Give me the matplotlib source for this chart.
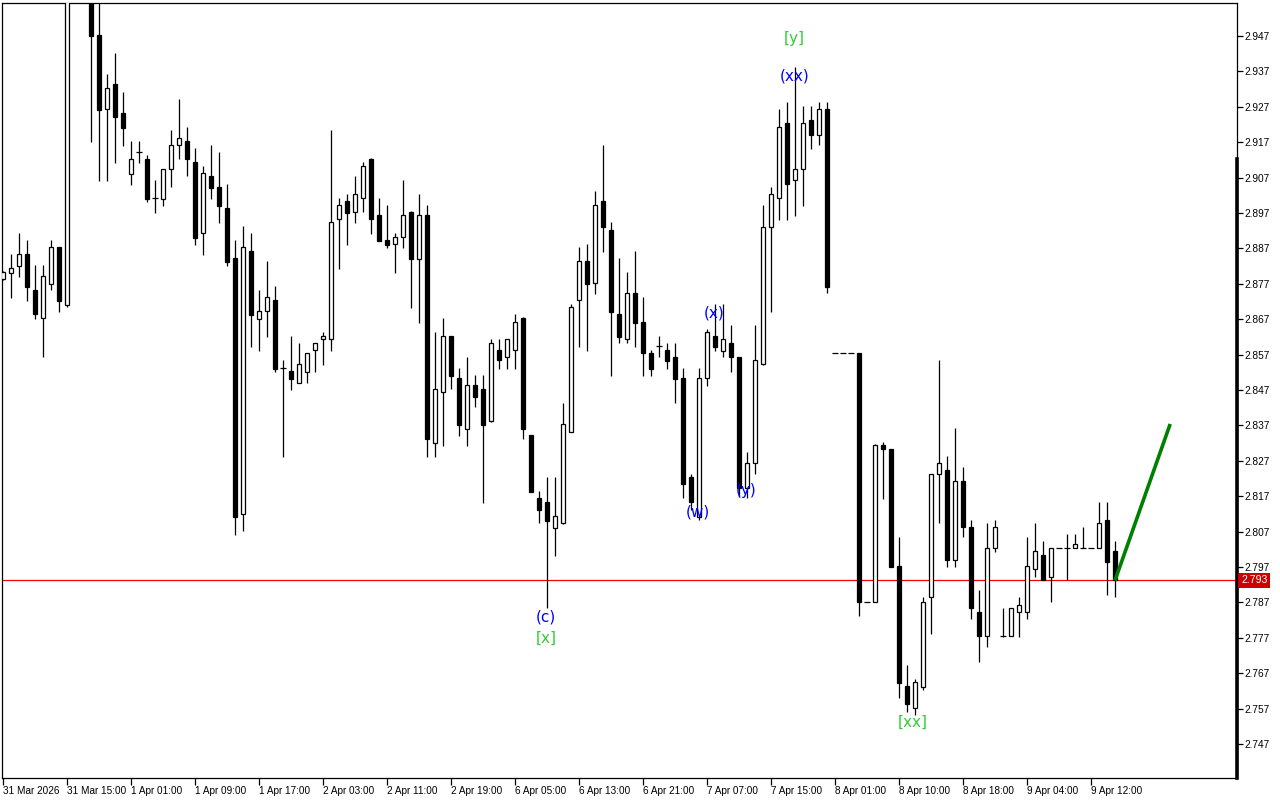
import numpy as np
import matplotlib
matplotlib.use("Agg")
import matplotlib.pyplot as plt
import matplotlib.transforms as mtransforms

# Hourly bars, values (bars 9 and 10 sit above the visible range)
opens = [2.8783, 2.8801, 2.8821, 2.8853, 2.8752, 2.8673, 2.8770, 2.8873, 2.8711, 2.9620,
         2.9700, 2.9630, 2.9473, 2.9263, 2.9334, 2.9252, 2.9081, 2.9142, 2.9122, 2.9011,
         2.9010, 2.9093, 2.9161, 2.9172, 2.9113, 2.8913, 2.9074, 2.9043, 2.8983, 2.8842,
         2.8121, 2.8862, 2.8671, 2.8692, 2.8723, 2.8531, 2.8523, 2.8491, 2.8522, 2.8582,
         2.8613, 2.8613, 2.8952, 2.9003, 2.8972, 2.9011, 2.9122, 2.8963, 2.8893, 2.8882,
         2.8901, 2.8972, 2.8841, 2.8963, 2.8321, 2.8463, 2.8622, 2.8503, 2.8361, 2.8483,
         2.8472, 2.8381, 2.8582, 2.8562, 2.8582, 2.8673, 2.8342, 2.8164, 2.8154, 2.8081,
         2.8093, 2.8352, 2.8723, 2.8833, 2.8771, 2.9003, 2.8922, 2.8684, 2.8613, 2.8743,
         2.8661, 2.8574, 2.8594, 2.8583, 2.8562, 2.8503, 2.8223, 2.8111, 2.8503, 2.8623,
         2.8581, 2.8602, 2.8562, 2.8192, 2.8263, 2.8543, 2.8931, 2.9011, 2.9223, 2.9062,
         2.9093, 2.9233, 2.9191, 2.9263, 2.8574, 2.8574, 2.8574, 2.8574, 2.7872, 2.7872,
         2.8314, 2.8303, 2.7973, 2.7634, 2.7572, 2.7632, 2.7884, 2.8232, 2.8243, 2.7991,
         2.8212, 2.8082, 2.7842, 2.7775, 2.8023, 2.7775, 2.7774, 2.7842, 2.7842, 2.7964,
         2.8004, 2.7943, 2.8023, 2.8023, 2.8023, 2.8023, 2.8023, 2.8023, 2.8103, 2.8015]
highs = [2.8805, 2.8854, 2.8913, 2.8894, 2.8823, 2.8823, 2.8894, 2.8875, 2.9680, 2.9750,
         2.9780, 2.9660, 2.9580, 2.9363, 2.9422, 2.9312, 2.9173, 2.9173, 2.9134, 2.9063,
         2.9094, 2.9204, 2.9292, 2.9213, 2.9153, 2.9103, 2.9162, 2.9141, 2.9051, 2.8894,
         2.8933, 2.8913, 2.8751, 2.8834, 2.8764, 2.8554, 2.8622, 2.8602, 2.8575, 2.8603,
         2.8633, 2.9204, 2.9012, 2.9023, 2.9074, 2.9114, 2.9124, 2.9012, 2.8992, 2.8913,
         2.9063, 2.8975, 2.9023, 2.8992, 2.8634, 2.8673, 2.8623, 2.8531, 2.8562, 2.8511,
         2.8511, 2.8614, 2.8614, 2.8614, 2.8685, 2.8675, 2.8344, 2.8185, 2.8224, 2.8224,
         2.8432, 2.8713, 2.8874, 2.8881, 2.9031, 2.9162, 2.8945, 2.8843, 2.8802, 2.8863,
         2.8733, 2.8583, 2.8623, 2.8604, 2.8604, 2.8531, 2.8233, 2.8531, 2.8642, 2.8713,
         2.8713, 2.8654, 2.8564, 2.8294, 2.8654, 2.8992, 2.9044, 2.9264, 2.9283, 2.9383,
         2.9271, 2.9271, 2.9284, 2.9284, 2.8574, 2.8574, 2.8574, 2.8574, 2.7872, 2.8316,
         2.8322, 2.8304, 2.8055, 2.7693, 2.7654, 2.7885, 2.8234, 2.8555, 2.8284, 2.8363,
         2.8253, 2.8102, 2.7905, 2.8093, 2.8103, 2.7853, 2.7855, 2.7886, 2.8055, 2.8094,
         2.8043, 2.8025, 2.8023, 2.8063, 2.8063, 2.8083, 2.8023, 2.8154, 2.8154, 2.8043]
lows = [2.8780, 2.8731, 2.8790, 2.8722, 2.8670, 2.8563, 2.8751, 2.8691, 2.8704, 2.9580,
        2.9600, 2.9171, 2.9061, 2.9061, 2.9112, 2.9160, 2.9049, 2.9112, 2.9002, 2.8971,
        2.8991, 2.9042, 2.9121, 2.9073, 2.8880, 2.8852, 2.9010, 2.8943, 2.8821, 2.8060,
        2.8072, 2.8592, 2.8581, 2.8621, 2.8522, 2.8282, 2.8471, 2.8489, 2.8491, 2.8522,
        2.8541, 2.8581, 2.8813, 2.8880, 2.8943, 2.8972, 2.8911, 2.8890, 2.8872, 2.8801,
        2.8872, 2.8702, 2.8660, 2.8282, 2.8282, 2.8313, 2.8472, 2.8341, 2.8313, 2.8423,
        2.8152, 2.8380, 2.8530, 2.8530, 2.8530, 2.8332, 2.8181, 2.8093, 2.7854, 2.8001,
        2.8091, 2.8350, 2.8592, 2.8581, 2.8742, 2.8861, 2.8510, 2.8602, 2.8602, 2.8592,
        2.8510, 2.8510, 2.8562, 2.8530, 2.8432, 2.8164, 2.8131, 2.8103, 2.8482, 2.8581,
        2.8562, 2.8522, 2.8169, 2.8164, 2.8233, 2.8540, 2.8691, 2.8950, 2.8950, 2.8962,
        2.8991, 2.9152, 2.9161, 2.8743, 2.8574, 2.8574, 2.8574, 2.7832, 2.7872, 2.7870,
        2.8163, 2.7969, 2.7601, 2.7561, 2.7552, 2.7623, 2.7781, 2.8093, 2.7971, 2.7971,
        2.8054, 2.7822, 2.7703, 2.7743, 2.8013, 2.7773, 2.7774, 2.7773, 2.7822, 2.7943,
        2.7932, 2.7872, 2.8023, 2.7932, 2.8023, 2.8023, 2.8023, 2.8023, 2.7892, 2.7885]
closes = [2.8802, 2.8814, 2.8853, 2.8762, 2.8684, 2.8791, 2.8873, 2.8722, 2.9620, 2.9700,
          2.9630, 2.9471, 2.9262, 2.9322, 2.9242, 2.9211, 2.9122, 2.9141, 2.9010, 2.9011,
          2.9093, 2.9161, 2.9181, 2.9121, 2.8900, 2.9082, 2.9041, 2.8991, 2.8832, 2.8112,
          2.8873, 2.8683, 2.8692, 2.8732, 2.8530, 2.8531, 2.8502, 2.8543, 2.8574, 2.8602,
          2.8622, 2.8944, 2.8992, 2.8971, 2.9023, 2.9102, 2.8952, 2.8892, 2.8880, 2.8901,
          2.8963, 2.8841, 2.8963, 2.8332, 2.8472, 2.8622, 2.8510, 2.8372, 2.8483, 2.8451,
          2.8372, 2.8602, 2.8554, 2.8613, 2.8661, 2.8361, 2.8183, 2.8132, 2.8101, 2.8113,
          2.8373, 2.8704, 2.8833, 2.8770, 2.8992, 2.8931, 2.8691, 2.8621, 2.8743, 2.8660,
          2.8574, 2.8530, 2.8594, 2.8553, 2.8502, 2.8204, 2.8153, 2.8503, 2.8633, 2.8592,
          2.8613, 2.8562, 2.8192, 2.8263, 2.8555, 2.8931, 2.9023, 2.9212, 2.9051, 2.9093,
          2.9223, 2.9191, 2.9263, 2.8762, 2.8574, 2.8574, 2.8574, 2.7872, 2.7872, 2.8314,
          2.8302, 2.7971, 2.7643, 2.7584, 2.7645, 2.7872, 2.8232, 2.8263, 2.7991, 2.8212,
          2.8082, 2.7853, 2.7775, 2.8023, 2.8082, 2.7775, 2.7855, 2.7862, 2.7972, 2.8015,
          2.7932, 2.8023, 2.8023, 2.8023, 2.8034, 2.8023, 2.8023, 2.8094, 2.7983, 2.7932]

time_labels = ["31 Mar 2026", "31 Mar 15:00", "1 Apr 01:00", "1 Apr 09:00", "1 Apr 17:00",
               "2 Apr 03:00", "2 Apr 11:00", "2 Apr 19:00", "6 Apr 05:00", "6 Apr 13:00",
               "6 Apr 21:00", "7 Apr 07:00", "7 Apr 15:00", "8 Apr 01:00", "8 Apr 10:00",
               "8 Apr 18:00", "9 Apr 04:00", "9 Apr 12:00"]
label_bars = list(range(0, 137, 8))

# wave labels
wave_text = ["[y]", "(xx)", "(x)", "(w)", "(y)", "(c)", "[x]", "[xx]"]
wave_bar = [98.9, 98.9, 88.9, 86.9, 92.9, 67.9, 67.9, 113.75]
wave_price = [2.9464, 2.9357, 2.8688, 2.8125, 2.8187, 2.7829, 2.7769, 2.7530]
wave_color = ["#32cd32", "#0000ff", "#0000ff", "#0000ff", "#0000ff", "#0000ff", "#32cd32", "#32cd32"]

# projection line and current bid
proj_bar = [139, 145.9]
proj_price = [2.7932, 2.8374]
bid = 2.7932

ymin, ymax = 2.7374, 2.9563
xmin, xmax = -0.125, 154.25

fig = plt.figure(figsize=(12.8, 8), dpi=100)
ax = fig.add_axes([2 / 1280, 22 / 800, 1235 / 1280, 775 / 800])
ax.set_xlim(xmin, xmax)
ax.set_ylim(ymin, ymax)

x = np.arange(len(opens))
o = np.array(opens)
h = np.array(highs)
l = np.array(lows)
c = np.array(closes)

ax.axhline(bid, color="#ff0000", lw=0.9, zorder=1)

# wicks
ax.vlines(x, l, h, color="black", lw=0.9, zorder=2)

# bodies
bw = 0.52
body_lo = np.minimum(o, c)
body_hi = np.maximum(o, c)
flat = (body_hi - body_lo) < 0.00015
up = (c >= o) & ~flat
dn = (c < o) & ~flat
ax.bar(x[up], (body_hi - body_lo)[up], bottom=body_lo[up], width=bw,
       color="white", edgecolor="black", linewidth=0.9, zorder=3)
ax.bar(x[dn], (body_hi - body_lo)[dn], bottom=body_lo[dn], width=bw,
       color="black", edgecolor="black", linewidth=0.9, zorder=3)
ax.hlines(c[flat], x[flat] - 0.33, x[flat] + 0.33, color="black", lw=0.9, zorder=3)

ax.plot(proj_bar, proj_price, color="#008000", lw=2.6, zorder=4,
        solid_capstyle="butt")

for t, xb, yp, col in zip(wave_text, wave_bar, wave_price, wave_color):
    ax.text(xb, yp, t, color=col, fontsize=11, ha="center", va="center",
            family="DejaVu Sans", zorder=5)

# axes look (MetaTrader style)
for s in ax.spines.values():
    s.set_color("black")
    s.set_linewidth(0.9)
ax.yaxis.tick_right()
yt = np.round(np.arange(2.747, 2.948, 0.01), 3)
ax.set_yticks(yt)
ax.set_yticklabels([f"{v:.3f}" for v in yt], family="Liberation Sans", fontsize=7.3)
ax.tick_params(axis="y", direction="out", length=4, width=0.9, pad=1.5)
ax.set_xticks(label_bars)
ax.set_xticklabels(time_labels, family="Liberation Sans", fontsize=7.2, ha="left")
ax.tick_params(axis="x", direction="out", length=5, width=0.9, pad=0.5)

# thick part of the price scale
ax.plot([xmax, xmax], [ymin, 2.9122], color="black", lw=2.6, clip_on=False, zorder=6)

# bid price box on the scale
trans = mtransforms.blended_transform_factory(ax.transAxes, ax.transData)
ax.text(1.0 + 4 / 1235, bid, f"{bid:.3f}", transform=trans, color="white",
        fontsize=7.6, family="Liberation Sans", ha="left", va="center", zorder=7,
        bbox=dict(boxstyle="square,pad=0.25", fc="#cc0000", ec="none"))

fig.savefig("out.png", dpi=100, facecolor="white")
